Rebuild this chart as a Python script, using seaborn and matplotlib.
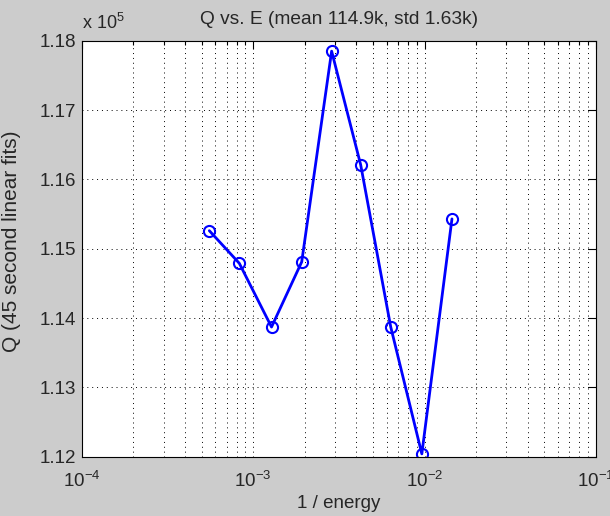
import matplotlib
matplotlib.use("Agg")
import matplotlib.pyplot as plt
import matplotlib.ticker as mticker
import numpy as np
import pandas as pd
import seaborn as sns

# Q from 45-second linear fits against inverse energy
inv_energy = [5.55e-4, 8.3e-4, 1.28e-3, 1.92e-3, 2.87e-3, 4.24e-3, 6.35e-3, 9.64e-3, 1.445e-2]
q_values = [115260, 114790, 113870, 114810, 117850, 116210, 113870, 112040, 115430]

y_ticks = [112000, 113000, 114000, 115000, 116000, 117000, 118000]
x_limits = (1e-4, 1e-1)

df = pd.DataFrame({"inv_energy": inv_energy, "Q": q_values})
q_mean = np.mean(q_values) / 1000
q_std = 1.63

sns.set_style("white")
plt.rcParams["font.family"] = ["Liberation Sans", "DejaVu Sans"]
plt.rcParams["mathtext.fontset"] = "custom"
plt.rcParams["mathtext.rm"] = "Liberation Sans"

text_color = "#262626"

fig = plt.figure(figsize=(6.1, 5.16), dpi=100, facecolor="#cccccc")
ax = fig.add_axes([0.134, 0.115, 0.843, 0.806])
ax.set_facecolor("white")
ax.set_xscale("log")

sns.lineplot(data=df, x="inv_energy", y="Q", ax=ax, color="#0000ff",
             linewidth=2.0, marker="o", markersize=8, markerfacecolor="none",
             markeredgecolor="#0000ff", markeredgewidth=1.5, sort=False)

ax.set_xlim(*x_limits)
ax.set_ylim(y_ticks[0], y_ticks[-1])
ax.set_yticks(y_ticks)
ax.yaxis.set_major_formatter(mticker.FuncFormatter(lambda v, p: f"{v/1e5:.2f}"))
ax.xaxis.set_major_locator(mticker.LogLocator(base=10, numticks=10))
ax.xaxis.set_minor_locator(mticker.LogLocator(base=10, subs=np.arange(2, 10), numticks=20))
ax.xaxis.set_minor_formatter(mticker.NullFormatter())

grid_style = dict(color="black", linestyle=(0, (1, 4)), linewidth=0.7)
ax.grid(True, which="major", axis="both", **grid_style)
ax.grid(True, which="minor", axis="x", **grid_style)

ax.tick_params(which="both", direction="in", top=True, right=True,
               labelsize=13.5, labelcolor=text_color, colors="black", width=0.8)
ax.tick_params(which="major", length=6)
ax.tick_params(which="minor", length=3)
ax.tick_params(axis="x", pad=10)
ax.tick_params(axis="y", pad=4)
for sp in ax.spines.values():
    sp.set_color("black")
    sp.set_linewidth(0.8)

ax.set_xlabel("1 / energy", fontsize=13.5, color=text_color, labelpad=3)
ax.set_ylabel("Q (45 second linear fits)", fontsize=15, color=text_color, labelpad=5)
ax.yaxis.set_label_coords(-0.118, 0.517)
ax.set_title(f"Q vs. E (mean {q_mean:.1f}k, std {q_std:.2f}k)", fontsize=13.8,
             color=text_color, pad=12)
ax.text(0.0, 1.029, r"x 10$^{5}$", transform=ax.transAxes, fontsize=13,
        color=text_color, ha="left", va="baseline")

fig.savefig("out.png", dpi=100, facecolor=fig.get_facecolor())
